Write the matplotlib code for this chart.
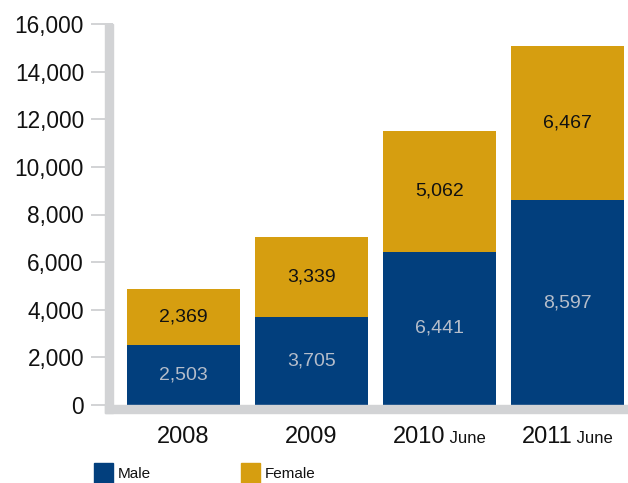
import matplotlib
matplotlib.use("Agg")
import matplotlib.pyplot as plt
from matplotlib.patches import Rectangle

plt.rcParams['font.family'] = ['Liberation Sans', 'DejaVu Sans']

years = ["2008", "2009", "2010", "2011"]
year_suffix = ["", "", "June", "June"]
male = [2503, 3705, 6441, 8597]
female = [2369, 3339, 5062, 6467]
yticks = [0, 2000, 4000, 6000, 8000, 10000, 12000, 14000, 16000]

MALE_C = "#023f7d"
FEMALE_C = "#d69e10"
GRAY = "#d2d3d5"

W, H = 628, 483
fig = plt.figure(figsize=(W / 100, H / 100), dpi=100)

def fx(px):
    return px / W

def fy(py):
    return 1 - py / H

ax_left, ax_right, ax_top, ax_bottom = 113, 628, 24, 405
ax = fig.add_axes([fx(ax_left), fy(ax_bottom), fx(ax_right - ax_left), (ax_bottom - ax_top) / H])

x = list(range(len(years)))
pitch = 128.0
c0 = 183.5
ax.set_xlim((ax_left - c0) / pitch, (ax_right - c0) / pitch)
ax.set_ylim(0, 16000)

bw = 113 / pitch
ax.bar(x, male, width=bw, color=MALE_C, zorder=2)
ax.bar(x, female, width=bw, bottom=male, color=FEMALE_C, zorder=2)

for i in x:
    ax.text(i, male[i] / 2, f"{male[i]:,}", ha="center", va="center",
            fontsize=14, color="#b5bdca", zorder=3)
    ax.text(i, male[i] + female[i] / 2, f"{female[i]:,}", ha="center", va="center",
            fontsize=14, color="#111111", zorder=3)

for s in ax.spines.values():
    s.set_visible(False)

ax.set_yticks(yticks)
ax.set_yticklabels([f"{v:,}" for v in yticks])
ax.tick_params(axis="y", direction="out", length=15.8, width=1.4, color=GRAY,
               pad=5, labelsize=16.3, labelcolor="#111111")
ax.set_xticks([])

fig.add_artist(Rectangle((fx(105), fy(413)), fx(8), (413 - 24) / H,
                         transform=fig.transFigure, color=GRAY, zorder=5))
fig.add_artist(Rectangle((fx(105), fy(413)), fx(628 - 105), 8 / H,
                         transform=fig.transFigure, color=GRAY, zorder=5))

fig.canvas.draw()
renderer = fig.canvas.get_renderer()
for i in x:
    t1 = fig.text(fx(c0 + pitch * i), fy(443), years[i], fontsize=17, ha="left",
                  va="baseline", color="#111111")
    if year_suffix[i]:
        t2 = fig.text(0, fy(443), " " + year_suffix[i], fontsize=12, ha="left",
                      va="baseline", color="#111111")
        w1 = t1.get_window_extent(renderer).width
        w2 = t2.get_window_extent(renderer).width
        start = (c0 + pitch * i) - (w1 + w2) / 2
        t1.set_x(fx(start))
        t2.set_x(fx(start + w1))
    else:
        t1.set_ha("center")

for (lx, tx, name, col) in [(94, 118, "Male", MALE_C), (241, 265, "Female", FEMALE_C)]:
    fig.add_artist(Rectangle((fx(lx), fy(483)), fx(19), 20 / H,
                             transform=fig.transFigure, color=col))
    fig.text(fx(tx), fy(478), name, fontsize=11, ha="left", va="baseline", color="#111111")

fig.savefig("out.png", dpi=100)
